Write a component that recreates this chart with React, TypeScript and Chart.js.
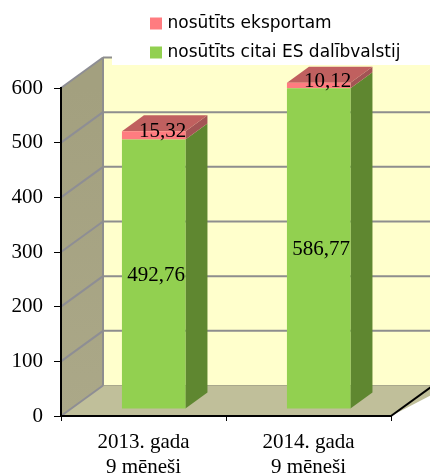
import React, { useEffect, useRef } from "react";
import { Chart, registerables } from "chart.js";

Chart.register(...registerables);

const categories = [["2013. gada", "9 mēneši"], ["2014. gada", "9 mēneši"]];
const citaiEs = [492.76, 586.77];
const eksportam = [15.32, 10.12];
const citaiLabels = ["492,76", "586,77"];
const eksportLabels = ["15,32", "10,12"];
const yTicks = [0, 100, 200, 300, 400, 500, 600];

const SERIF = "'Liberation Serif', serif";
const DEPTH = { x: 42, y: -30.5 };
const BAR_SHIFT = { x: 10.2, y: -7 };
const BAR_DEPTH = { x: 22, y: -16 };
const poly = (ctx: CanvasRenderingContext2D, pts: number[][], fill: any) => {
  ctx.beginPath();
  pts.forEach(([x, y], i) => (i ? ctx.lineTo(x, y) : ctx.moveTo(x, y)));
  ctx.closePath();
  ctx.fillStyle = fill;
  ctx.fill();
};
const line = (ctx: CanvasRenderingContext2D, x1: number, y1: number, x2: number, y2: number, color: string, w: number) => {
  ctx.beginPath();
  ctx.moveTo(x1, y1);
  ctx.lineTo(x2, y2);
  ctx.strokeStyle = color;
  ctx.lineWidth = w;
  ctx.stroke();
};

const wallsPlugin = {
  id: "walls",
  beforeDraw(chart: any) {
    const { ctx, scales } = chart;
    const y = scales.y;
    const left = chart.chartArea.left;
    const right = chart.width + 20;
    const front = chart.chartArea.right;
    const top = y.getPixelForValue(600);
    const zero = y.getPixelForValue(0);
    ctx.save();
    ctx.fillStyle = "#fff";
    ctx.fillRect(0, 0, chart.width, chart.height);
    const bx = left + DEPTH.x;
    poly(ctx, [[bx, top + DEPTH.y], [right, top + DEPTH.y], [right, zero + DEPTH.y], [bx, zero + DEPTH.y]], "#FFFFCC");
    const g = ctx.createLinearGradient(0, top, 0, zero);
    g.addColorStop(0, "#A3A07F");
    g.addColorStop(1, "#ABA888");
    poly(ctx, [[left, top], [bx, top + DEPTH.y], [bx, zero + DEPTH.y], [left, zero]], g);
    poly(ctx, [[left, zero], [bx, zero + DEPTH.y], [right, zero + DEPTH.y], [right, zero + DEPTH.y], [front, zero]], "#C0BF9A");
    yTicks.forEach((v) => {
      const p = y.getPixelForValue(v);
      if (v > 0) line(ctx, bx, p + DEPTH.y, right, p + DEPTH.y, "#8E8E8E", 2);
      else line(ctx, bx, p + DEPTH.y, right, p + DEPTH.y, "#A9A88C", 1);
      line(ctx, left, p, bx, p + DEPTH.y, "#8E8E94", 2);
    });
    line(ctx, bx, top + DEPTH.y, bx, zero + DEPTH.y, "#8E8E8E", 2);
    // Legend backdrop covers the top of the wall
    ctx.fillStyle = "#fff";
    ctx.fillRect(112, 0, chart.width, 65);
    // Floor front-right edge
    line(ctx, front, zero, front + DEPTH.x, zero + DEPTH.y, "#000", 2);
    ctx.restore();
  },
  afterLayout(chart: any) {
    const l = chart.legend;
    if (l) {
      l.left = 141;
      l.top = 3;
      l.right = 430;
      l.bottom = 300;
    }
  },
  beforeDatasetsDraw(chart: any) {
    const { ctx } = chart;
    ctx.save();
    ctx.translate(BAR_SHIFT.x, BAR_SHIFT.y);
    const [green, pink] = [chart.getDatasetMeta(0).data, chart.getDatasetMeta(1).data];
    const d = BAR_DEPTH;
    green.forEach((el: any, i: number) => {
      const r = el.x + el.width / 2;
      poly(ctx, [[r, el.base], [r + d.x, el.base + d.y], [r + d.x, el.y + d.y], [r, el.y]], "#5F8730");
      const p = pink[i];
      poly(ctx, [[r, p.base], [r + d.x, p.base + d.y], [r + d.x, p.y + d.y], [r, p.y]], "#A35455");
      const l = p.x - p.width / 2;
      poly(ctx, [[l, p.y], [l + d.x, p.y + d.y], [r + d.x, p.y + d.y], [r, p.y]], "#C0605F");
    });
  },
  afterDatasetsDraw(chart: any) {
    const { ctx } = chart;
    const [green, pink] = [chart.getDatasetMeta(0).data, chart.getDatasetMeta(1).data];
    ctx.fillStyle = "#000";
    ctx.font = `21px ${SERIF}`;
    ctx.textAlign = "center";
    ctx.textBaseline = "middle";
    green.forEach((el: any, i: number) => {
      ctx.fillText(citaiLabels[i], el.x + 2.5, (el.y + el.base) / 2 + 1);
      const p = pink[i];
      ctx.fillText(eksportLabels[i], p.x + 9, (p.y + p.base) / 2 - 4);
    });
    ctx.restore();
  },
};

export default function App() {
  const ref = useRef<HTMLCanvasElement>(null);
  useEffect(() => {
    const chart = new Chart(ref.current!, {
      type: "bar",
      data: {
        labels: categories,
        datasets: [
          { label: "nosūtīts citai ES dalībvalstij", data: citaiEs, backgroundColor: "#92D050", clip: false },
          { label: "nosūtīts eksportam", data: eksportam, backgroundColor: "#FF7C80", clip: false },
        ],
      } as any,
      options: {
        responsive: false,
        animation: false,
        barPercentage: 0.385,
        categoryPercentage: 1,
        layout: { padding: { top: 88, right: 39, left: 0, bottom: 0 } },
        plugins: {
          tooltip: { enabled: false },
          title: { display: false },
          legend: {
            position: "chartArea",
            align: "start",
            reverse: true,
            labels: {
              boxWidth: 6,
              boxHeight: 6,
              padding: 12,
              color: "#000",
              font: { family: "'DejaVu Sans', sans-serif", size: 17 },
              generateLabels: (chart: any) =>
                Chart.defaults.plugins.legend.labels.generateLabels(chart).map((it: any) => ({
                  ...it,
                  strokeStyle: it.fillStyle,
                  lineWidth: 6,
                })),
            },
          },
        },
        scales: {
          x: {
            stacked: true,
            border: { color: "#000", width: 2 },
            grid: { drawOnChartArea: false, drawTicks: true, tickLength: 5, color: "#000" },
            ticks: { color: "#000", padding: 9, maxRotation: 0, font: { family: SERIF, size: 21 } },
            afterFit: (s: any) => { s.height = 58; },
          },
          y: {
            stacked: true,
            min: 0,
            max: 600,
            border: { color: "#000", width: 2 },
            grid: { drawOnChartArea: false, drawTicks: true, tickLength: 7, color: "#000" },
            ticks: { color: "#000", padding: 11, stepSize: 100, font: { family: SERIF, size: 21 } },
            afterFit: (s: any) => { s.width = 61; },
          },
        },
      } as any,
      plugins: [wallsPlugin as any],
    });
    return () => chart.destroy();
  }, []);
  return (
    <canvas
      ref={ref}
      width={430}
      height={474}
      style={{ position: "absolute", left: 0, top: 0, display: "block" }}
    />
  );
}
